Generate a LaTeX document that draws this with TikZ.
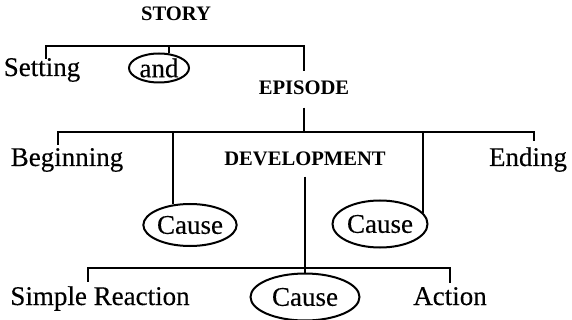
\documentclass[tikz,border=0pt]{standalone}
\usepackage{fontspec}
\setmainfont{Liberation Serif}
\newfontfamily\scanfont[FakeBold=0.3]{Liberation Serif}
\usetikzlibrary{shapes.geometric, positioning}

\tikzset{
  word/.style={inner sep=0pt, anchor=base, font=\fontsize{13.5}{16}\scanfont},
  caps/.style={inner sep=0pt, anchor=base, font=\fontsize{10.3}{12}\selectfont\bfseries},
  ring/.style={draw, ellipse, line width=1pt, inner sep=0pt, font=\fontsize{13.5}{16}\scanfont},
  branch/.style={line width=1pt},
}

\begin{document}
\begin{tikzpicture}[x=0.5pt,y=-0.5pt]
    \useasboundingbox (0,0) rectangle (572,320);

    % Livelli delle barre
    \coordinate (storybar) at (0,46);
    \coordinate (episodebar) at (0,132);
    \coordinate (devbar) at (0,268);

    % Primo livello
    \node[caps] (story) at (176,21) {STORY};
    \node[word] (setting) at (42,76) {Setting};
    \node[ring, minimum width=30pt, minimum height=14.5pt] (andring) at (159,68) {and};
    \node[caps] (episode) at (304,95) {EPISODE};

    % Secondo livello
    \node[word] (beginning) at (67,166) {Beginning};
    \node[caps] (development) at (305,166) {DEVELOPMENT};
    \node[word] (ending) at (528,166) {Ending};
    \node[ring, minimum width=43.5pt, minimum height=21pt] (leftcause) at (190,225) {Cause};
    \node[ring, minimum width=47.5pt, minimum height=23.5pt] (rightcause) at (380,224) {Cause};

    % Terzo livello
    \node[word] (simple) at (100,305) {Simple Reaction};
    \node[ring, minimum width=54.5pt, minimum height=23.5pt] (bottomcause) at (305,297) {Cause};
    \node[word] (action) at (450,305) {Action};

    % Barre
    \draw[branch] ([xshift=2pt,yshift=-0.5pt]setting.north) |- (episode.north |- storybar) -- ([yshift=5pt]episode.north);
    \draw[branch] (andring.57 |- storybar) -- (andring.57);

    \draw[branch] ([yshift=-6pt]episode.south) -- (episode.south |- episodebar);
    \draw[branch] ([xshift=-4.5pt,yshift=1.5pt]beginning.north) |- (episodebar -| development.north) -| ([xshift=3pt,yshift=3pt]ending.north);
    \draw[branch] (leftcause.129 |- episodebar) -- (leftcause.129);
    \draw[branch] (rightcause.15 |- episodebar) -- (rightcause.15);

    \draw[branch] ([yshift=-5pt]development.south) -- (bottomcause.north);
    \draw[branch] ([xshift=-6pt,yshift=2pt]simple.north) |- (devbar -| bottomcause.north) -| ([yshift=2pt]action.north);
\end{tikzpicture}
\end{document}
